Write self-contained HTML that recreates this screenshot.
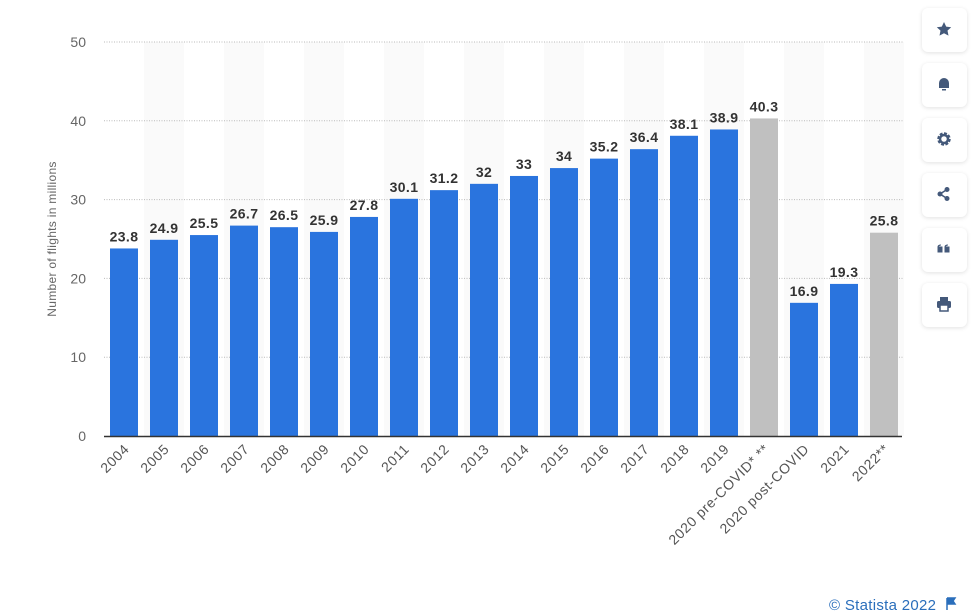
<!DOCTYPE html>
<html><head><meta charset="utf-8"><style>
body{margin:0;background:#fff;width:975px;height:616px;overflow:hidden;font-family:"Liberation Sans",sans-serif}
.btn{position:absolute;left:922px;width:45px;height:44px;background:#fff;border-radius:6px;box-shadow:0 1px 4px rgba(0,0,0,0.12)}
.btn svg{position:absolute;left:14px;top:13px}
</style></head><body>
<svg id="chart" width="975" height="616" style="position:absolute;left:0;top:0">
<text transform="translate(56,239) rotate(-90)" text-anchor="middle" font-size="12" fill="#666" letter-spacing="0.3">Number of flights in millions</text>
<text x="829" y="610" font-size="15" fill="#2a6ebb" letter-spacing="0.3">© Statista 2022</text>
<path d="M947 598v12M947 598h8l-2 3 2 3h-8" stroke="#2a6ebb" fill="#2a6ebb" stroke-width="1.5"/>
</svg>
<div class="btn" style="top:8px"><svg width="16" height="16"><path d="M8 1l2.2 4.6 5 .6-3.7 3.4 1 5L8 12.2 3.5 14.6l1-5L.8 6.2l5-.6z" fill="#44597a"/></svg></div>
<div class="btn" style="top:63px"><svg width="16" height="16"><path d="M3 12V7a5 5 0 0110 0v5z M6 13h4v1.5H6z" fill="#44597a"/></svg></div>
<div class="btn" style="top:118px"><svg width="16" height="16"><circle cx="8" cy="8" r="5" fill="none" stroke="#44597a" stroke-width="3.5" stroke-dasharray="2.6 1.3"/><circle cx="8" cy="8" r="4" fill="none" stroke="#44597a" stroke-width="2.5"/></svg></div>
<div class="btn" style="top:173px"><svg width="16" height="16"><circle cx="4" cy="8" r="2.5" fill="#44597a"/><circle cx="11" cy="3.5" r="2.5" fill="#44597a"/><circle cx="11" cy="12.5" r="2.5" fill="#44597a"/><path d="M4 8L11 3.5M4 8l7 4.5" stroke="#44597a" stroke-width="1.6"/></svg></div>
<div class="btn" style="top:228px"><svg width="16" height="16"><path d="M2 6h4v5H2zM2 6q0-2 3-2M9 6h4v5H9zM9 6q0-2 3-2" fill="#44597a" stroke="#44597a"/></svg></div>
<div class="btn" style="top:283px"><svg width="16" height="16"><rect x="4" y="1" width="8" height="4" fill="#44597a"/><rect x="1" y="5" width="14" height="7" rx="1.5" fill="#44597a"/><rect x="4" y="9" width="8" height="6" fill="#fff" stroke="#44597a" stroke-width="1.5"/></svg></div>
<script>
const categories=["2004","2005","2006","2007","2008","2009","2010","2011","2012","2013","2014","2015","2016","2017","2018","2019","2020 pre-COVID* **","2020 post-COVID","2021","2022**"];
const values=[23.8,24.9,25.5,26.7,26.5,25.9,27.8,30.1,31.2,32,33,34,35.2,36.4,38.1,38.9,40.3,16.9,19.3,25.8];
const valueLabels=["23.8","24.9","25.5","26.7","26.5","25.9","27.8","30.1","31.2","32","33","34","35.2","36.4","38.1","38.9","40.3","16.9","19.3","25.8"];
const projected=[false,false,false,false,false,false,false,false,false,false,false,false,false,false,false,false,true,false,false,true];
const yTicks=[0,10,20,30,40,50];
const NS="http://www.w3.org/2000/svg";
const svg=document.getElementById('chart');
const x0=104,bw=40,y0=436,yTop=42,yMax=50;
const y=v=>y0-(v/yMax)*(y0-yTop);
const xb=i=>x0+i*bw;
function add(t,a){const e=document.createElementNS(NS,t);for(const k in a)e.setAttribute(k,a[k]);svg.appendChild(e);return e;}
categories.forEach((c,i)=>{if(i%2===1){const r=add('rect',{x:xb(i),y:yTop,width:bw,height:y0-yTop,fill:'#fafafa'});

}});
yTicks.forEach(t=>{if(t>0){const l=add('line',{x1:x0,x2:x0+categories.length*bw,y1:y(t),y2:y(t),stroke:'#bbb','stroke-dasharray':'1 1.5'});

}
const tx=add('text',{x:86,y:y(t)+5,'text-anchor':'end','font-size':'14',fill:'#666'});tx.textContent=t;

});
categories.forEach((c,i)=>{const cx=xb(i)+bw/2;
const r=add('rect',{x:cx-14,y:y(values[i]),width:28,height:y0-y(values[i]),fill:projected[i]?'#c0c0c0':'#2a74de'});


const v=add('text',{x:cx,y:y(values[i])-7,'text-anchor':'middle','font-size':'14','font-weight':'bold',fill:'#333','letter-spacing':'0.4'});v.textContent=valueLabels[i];


const l=add('text',{transform:`translate(${cx+6},${y0+14}) rotate(-45)`,'text-anchor':'end','font-size':'14',fill:'#555','letter-spacing':'0.6'});l.textContent=c;

});
const ax=add('line',{x1:x0,x2:x0+categories.length*bw-2,y1:y0+0.5,y2:y0+0.5,stroke:'#333','stroke-width':1.5});


</script>
</body></html>
